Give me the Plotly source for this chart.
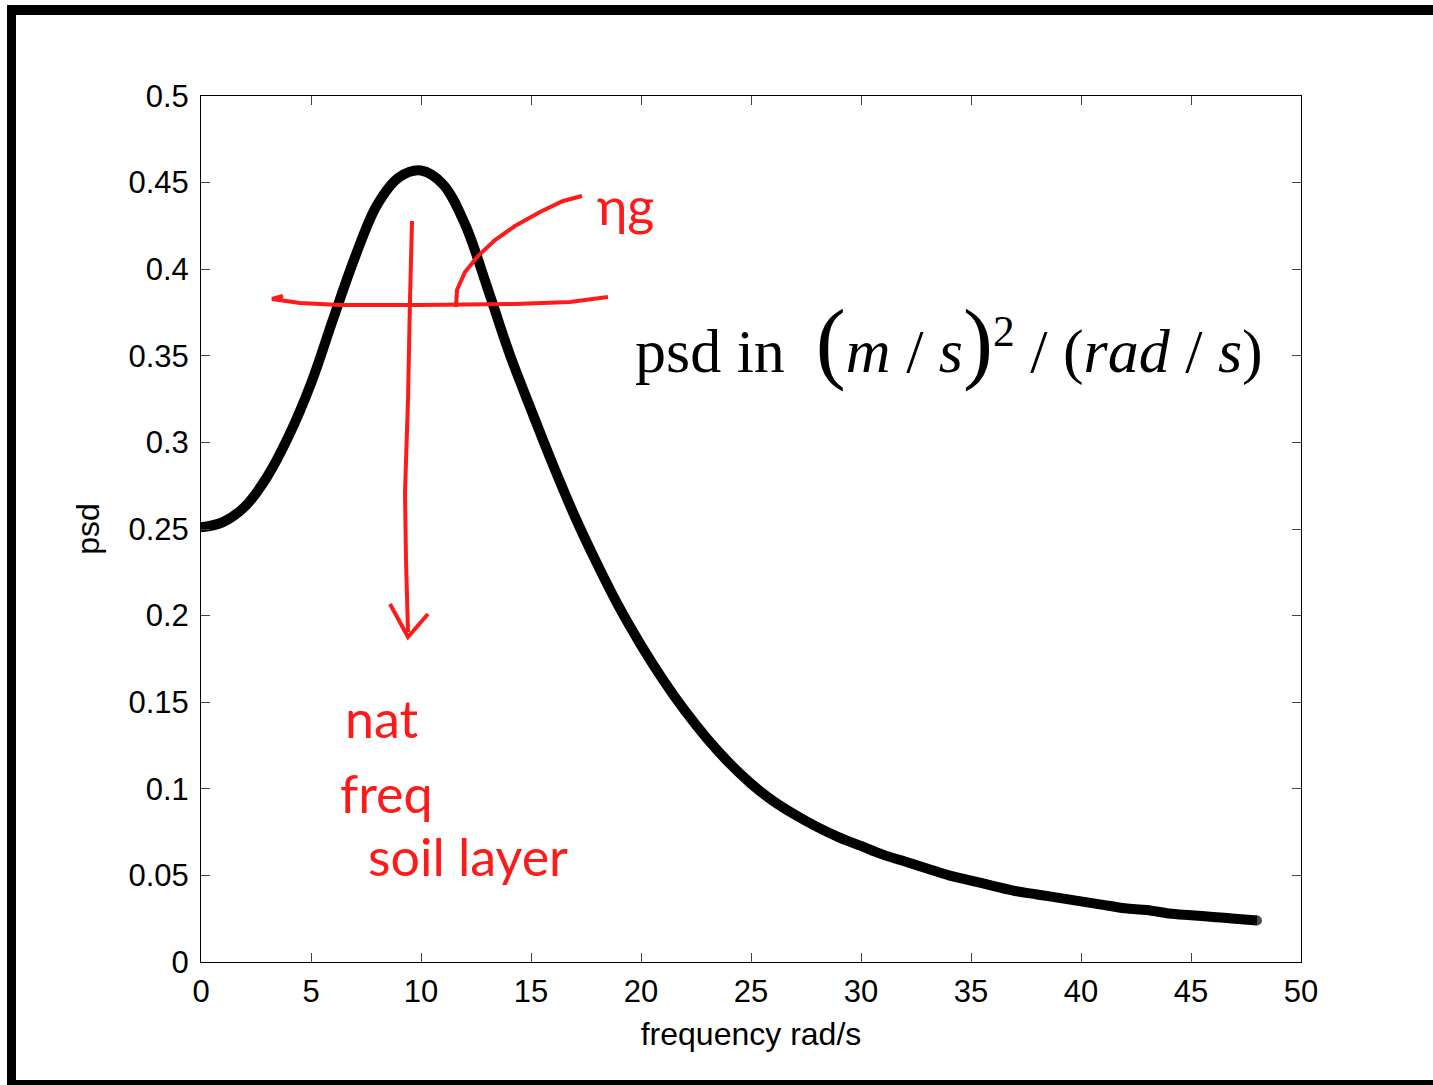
import plotly.graph_objects as go

# ---- data ----
freq = [0, 1, 2, 3, 4, 5, 6, 7, 8, 9, 10, 11, 12, 13, 14, 15, 16, 17, 18, 19, 20,
        21, 22, 23, 24, 25, 26, 27, 28, 29, 30, 31, 32, 33, 34, 35, 36, 37, 38, 39,
        40, 41, 42, 43, 44, 45, 46, 47, 48]
psd = [0.251, 0.254, 0.263, 0.280, 0.304, 0.334, 0.371, 0.407, 0.437, 0.453, 0.457,
       0.449, 0.426, 0.390, 0.352, 0.319, 0.287, 0.257, 0.230, 0.205, 0.183,
       0.163, 0.145, 0.129, 0.115, 0.103, 0.093, 0.085, 0.078, 0.072, 0.067,
       0.062, 0.058, 0.054, 0.050, 0.047, 0.044, 0.041, 0.039, 0.037, 0.035,
       0.033, 0.031, 0.030, 0.028, 0.027, 0.026, 0.025, 0.024]

x_ticks = [0, 5, 10, 15, 20, 25, 30, 35, 40, 45, 50]
y_ticks = [0, 0.05, 0.1, 0.15, 0.2, 0.25, 0.3, 0.35, 0.4, 0.45, 0.5]
y_tick_labels = ["0", "0.05", "0.1", "0.15", "0.2", "0.25", "0.3", "0.35", "0.4", "0.45", "0.5"]

W, H = 1433, 1085
L, R, T, B = 201, 1301, 96, 962


def px2x(px):
    return (px - L) / (R - L) * 50


def py2y(py):
    return (B - py) / (B - T) * 0.5


def ppx(px):
    return (px - L) / (R - L)


def ppy(py):
    return (B - py) / (B - T)


fig = go.Figure()
msize = [10] + [0] * (len(freq) - 2) + [10]
fig.add_trace(go.Scatter(
    x=freq, y=psd, mode="lines+markers",
    line=dict(color="black", width=10, shape="spline", smoothing=1.0),
    marker=dict(color="black", size=msize, line=dict(width=0)),
    showlegend=False, hoverinfo="skip"))

font_tick = dict(family="Liberation Sans, Arial", size=31, color="black")
font_title = dict(family="Liberation Sans, Arial", size=32, color="black")

fig.update_layout(
    width=W, height=H,
    margin=dict(l=L, r=W - R, t=T, b=H - B, autoexpand=False),
    paper_bgcolor="white", plot_bgcolor="white",
    font=font_tick,
    xaxis=dict(range=[0, 50], tickvals=x_ticks, ticks="inside", ticklen=9,
               tickcolor="#444", showline=True, linecolor="black", linewidth=1,
               mirror="ticks", showgrid=False, zeroline=False,
               tickfont=font_tick, automargin=False, ticklabelstandoff=2,
               title=dict(text="frequency rad/s", font=font_title, standoff=14)),
    yaxis=dict(range=[0, 0.5], tickvals=y_ticks, ticktext=y_tick_labels,
               ticks="inside", ticklen=9, tickcolor="#444", showline=True,
               linecolor="black", linewidth=1, mirror="ticks", showgrid=False,
               zeroline=False, tickfont=font_tick, automargin=False,
               ticklabelstandoff=5,
               title=dict(text="psd", font=font_title, standoff=19)),
)

# black frame around the picture
frame = [
    (7, 5, 16, 1085),     # left bar
    (7, 5, 1433, 15),     # top bar
    (7, 1080, 1433, 1085),  # bottom bar
]
for x0, y0, x1, y1 in frame:
    fig.add_shape(type="rect", xref="paper", yref="paper",
                  x0=ppx(x0), x1=ppx(x1), y0=ppy(y0), y1=ppy(y1),
                  fillcolor="black", line=dict(width=0), layer="above")

# equation-like label
big = "<span style='font-size:90px'>"
eq = ("psd in&#160; " + big + "(</span><i>m</i> / <i>s</i>" + big + ")</span>"
      "<sup>2</sup> / (<i>rad</i> / <i>s</i>)")
fig.add_annotation(x=px2x(633), y=py2y(342), xref="x", yref="y", text=eq,
                   showarrow=False, xanchor="left", yanchor="middle",
                   font=dict(family="Liberation Serif, Times New Roman", size=62, color="black"))

# red hand annotations (strokes)
RED = "#ff1a1a"


def path_from(points):
    s = "M {} {}".format(px2x(points[0][0]), py2y(points[0][1]))
    for p in points[1:]:
        s += " L {} {}".format(px2x(p[0]), py2y(p[1]))
    return s


strokes = [
    # horizontal line with arrow hook at left
    [(283, 296), (272, 299), (300, 303), (340, 305), (420, 305), (515, 304), (570, 302), (608, 297)],
    # vertical arrow stem
    [(412, 221), (410, 300), (408, 400), (405, 493), (406, 560), (408, 632)],
    # arrow head
    [(390, 604), (408, 637), (428, 614)],
    # curve to label
    [(456, 307), (457, 290), (465, 272), (478, 256), (495, 240), (515, 226), (540, 212), (563, 201), (582, 196)],
]
for pts in strokes:
    fig.add_shape(type="path", xref="x", yref="y", path=path_from(pts),
                  line=dict(color=RED, width=4), layer="above")

hand_font = dict(family="Lato, Noto Sans", size=52, color=RED)
for txt, px, py in [("ηg", 595, 205), ("nat", 343, 718), ("freq", 338, 793), ("soil layer", 366, 856)]:
    fig.add_annotation(x=px2x(px), y=py2y(py), xref="x", yref="y", text=txt,
                       showarrow=False, xanchor="left", yanchor="middle", font=hand_font)

fig.write_html("out.html")
